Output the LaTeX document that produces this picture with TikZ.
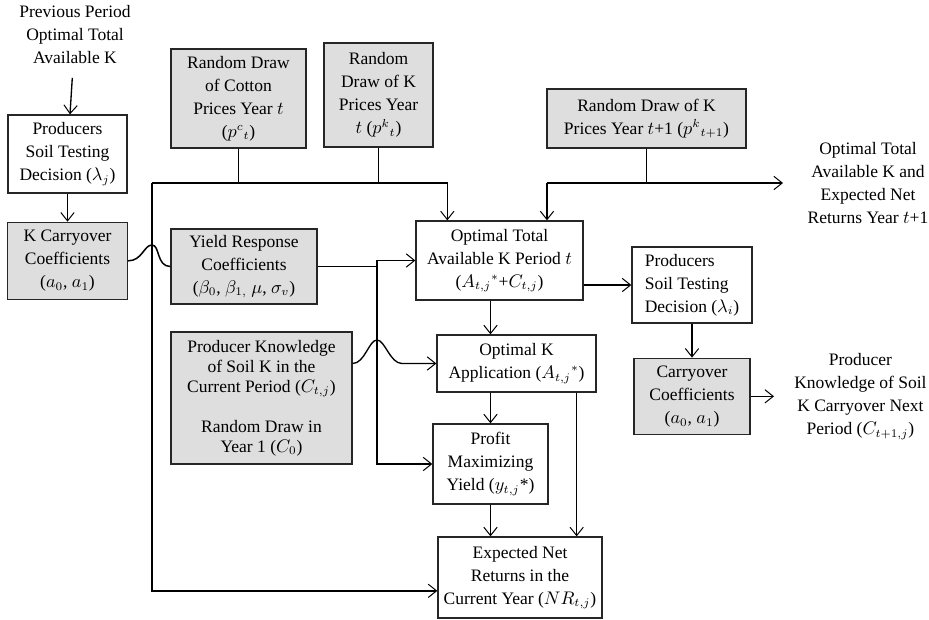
\documentclass[tikz,border=0pt]{standalone}
\usepackage{fontspec}
\setmainfont{Liberation Serif}
\usetikzlibrary{positioning, arrows.meta, calc}

\begin{document}
\begin{tikzpicture}[
    x=0.6pt, y=-0.6pt,
    font=\fontsize{10.5}{13.8}\selectfont,
    block/.style={rectangle, draw=black!85, line width=0.8pt, inner sep=2pt, align=center},
    given/.style={block, fill=black!13},
    txt/.style={inner xsep=12pt, inner ysep=8pt, align=center},
    arrow/.style={-{Straight Barb[length=5pt,width=8pt,line width=0.6pt]}, line width=0.8pt},
    line/.style={line width=0.9pt}
]
\useasboundingbox (0,0) rectangle (929,620);

% Left column
\node[txt] (prevk) at (75,35) {Previous Period\\Optimal Total\\Available K};
\node[block, minimum width=71.4pt, minimum height=46.8pt] (prodL) at (67.5,154) {Producers\\Soil Testing\\Decision ($\lambda_j$)};
\node[given, minimum width=72pt, minimum height=46.2pt, below=16.8pt of prodL] (kcarryL) {K Carryover\\Coefficients\\($a_0$, $a_1$)};

% Random draws
\node[given, minimum width=81pt, minimum height=59.4pt] (cotton) at (238.5,98.5) {Random Draw\\of Cotton\\Prices Year $t$\\($p^{c}{}_{t}$)};
\node[given, minimum width=65.4pt, minimum height=62.4pt] (kprice) at (378.5,95) {Random\\Draw of K\\Prices Year\\$t$ ($p^{k}{}_{t}$)};
\node[given, minimum width=119.4pt, minimum height=35.4pt] (kprice1) at (646.5,118.5) {Random Draw of K\\Prices Year $t$+1 ($p^{k}{}_{t+1}$)};

% Coefficients and knowledge
\node[given, minimum width=87.6pt, minimum height=45pt] (yield) at (244,266.5) {Yield Response\\Coefficients\\($\beta_0$, $\beta_{1,}$ $\mu$, $\sigma_v$)};
\node[given, minimum width=108.6pt, minimum height=79.2pt, font=\fontsize{10.5}{12}\selectfont] (know) at (261.5,398) {Producer Knowledge\\of Soil K in the\\Current Period ($C_{t,j}$)\\[12pt]Random Draw in\\Year 1 ($C_0$)};

% Optimisation chain
\node[block, minimum width=100.2pt, minimum height=47.4pt] (optTot) at (499.5,260.5) {Optimal Total\\Available K Period $t$\\($A_{t,j}{}^{*}$+$C_{t,j}$)};
\node[block, minimum width=95.4pt, minimum height=34.2pt] (optK) at (516.5,363.5) {Optimal K\\Application ($A_{t,j}{}^{*}$)};
\node[block, minimum width=69pt, minimum height=48pt] (profit) at (490.5,464) {Profit\\Maximizing\\Yield ($y_{t,j}$*)};
\node[block, minimum width=98.4pt, minimum height=48.6pt] (netR) at (520,577.5) {Expected Net\\Returns in the\\Current Year ($NR_{t,j}$)};

% Right column
\node[block, align=left, minimum width=72pt, minimum height=45.6pt] (prodR) at (692,285) {Producers\\Soil Testing\\Decision ($\lambda_i$)};
\node[given, minimum width=69.6pt, minimum height=45.6pt, below=20.4pt of prodR] (carryR) {Carryover\\Coefficients\\($a_0$, $a_1$)};
\node[txt, right=14pt of carryR] (knowR) {Producer\\Knowledge of Soil\\K Carryover Next\\Period ($C_{t+1,j}$)};
\node[txt] (nextT) at (868,183) {Optimal Total\\Available K and\\Expected Net\\Returns Year $t$+1};

% Junctions
\coordinate (busL) at (152,183);
\coordinate (bus2L) at (547,183);
\coordinate (nextIn) at (783,183);
\coordinate (ysplit) at (377,266.5);
\coordinate (hop1) at (152,245);
\coordinate (hop2) at (377,340);

% Connections
\draw[arrow] (prevk) -- (prodL);
\draw[arrow] (prodL) -- (kcarryL);
\draw[line] (kcarryL.east) .. controls +(14,0) and +(-8,0) .. (hop1) .. controls +(8,0) and +(-14,0) .. (yield.west);

\draw[line] (cotton.south) -- (cotton.south |- busL);
\draw[line] (kprice.south) -- (kprice.south |- busL);
\draw[arrow] (busL) -| ($(optTot.north west)!0.19!(optTot.north east)$);
\draw[arrow] (busL) |- ([yshift=-8pt]netR.west);

\draw[line] (kprice1.south) -- (kprice1.south |- bus2L);
\draw[arrow] (bus2L) -- (nextIn);
\draw[arrow] (bus2L) -- (bus2L |- optTot.north);

\draw[line] (yield.east) -- (ysplit);
\draw[arrow] (ysplit) |- (optTot.west);
\draw[arrow] (ysplit) |- (profit.west);

\draw[arrow] (know.east |- optK.west) .. controls +(12,0) and +(-8,0) .. (hop2) .. controls +(8,0) and +(-12,0) .. ([xshift=15pt]hop2 |- optK.west) -- (optK.west);

\draw[arrow] (optTot.south -| profit) -- (optK.north -| profit);
\draw[arrow] (optK.south -| profit) -- (profit.north);
\draw[arrow] (profit.south) -- (profit.south |- netR.north);
\draw[arrow] ([xshift=-12pt]optK.south east) -- ([xshift=-12pt]optK.south east |- netR.north);

\draw[arrow] (optTot.east |- prodR.west) -- (prodR.west);
\draw[arrow] (prodR.south -| carryR) -- (carryR.north);
\draw[arrow] (carryR) -- (knowR);

\end{tikzpicture}
\end{document}
